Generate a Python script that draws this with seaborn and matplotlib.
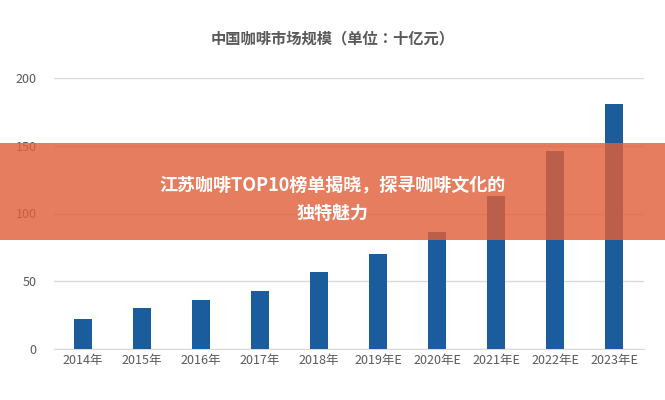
import matplotlib
matplotlib.use("Agg")
import matplotlib.pyplot as plt
import seaborn as sns
import pandas as pd
from matplotlib.patches import Rectangle

years = ["2014年", "2015年", "2016年", "2017年", "2018年", "2019年E", "2020年E", "2021年E", "2022年E", "2023年E"]
values = [22, 30, 36, 43, 57, 70, 86, 113, 146, 181]
yticks = [0, 50, 100, 150, 200]
title = "中国咖啡市场规模（单位：十亿元）"
banner = "江苏咖啡TOP10榜单揭晓，探寻咖啡文化的\n独特魅力"

plt.rcParams["font.family"] = ["Noto Sans CJK SC", "Noto Sans CJK JP", "Noto Sans CJK TC", "DejaVu Sans"]
plt.rcParams["font.sans-serif"] = ["Noto Sans CJK SC", "Noto Sans CJK JP", "DejaVu Sans"]
df = pd.DataFrame({"year": years, "value": values})

fig = plt.figure(figsize=(6.65, 4.0), dpi=100)
ax = fig.add_axes([53.5/665, 51/400, 590/665, 271/400])
sns.barplot(data=df, x="year", y="value", color="#1a5c9c", saturation=1, width=0.31, ax=ax, zorder=3)
ax.set_ylim(0, 200)
ax.set_xlim(-0.5, 9.5)
ax.set_yticks(yticks)
ax.grid(axis="y", color="#d9d9d9", linewidth=1, zorder=0)
for s in ["top", "right", "left"]:
    ax.spines[s].set_visible(False)
ax.spines["bottom"].set_color("#d9d9d9")
ax.tick_params(length=0, labelsize=9, colors="#595959")
ax.tick_params(axis="y", pad=12)
ax.set_xlabel("")
ax.set_ylabel("")
fig.text(0.5, 1 - 38/400, title, ha="center", va="center", fontsize=11, fontweight="bold", color="#595959")

fig.patches.append(Rectangle((0, 0.4), 1, 0.2425, transform=fig.transFigure,
                             facecolor="#e0603a", alpha=0.82, zorder=10))
fig.text(0.5, 1 - 199/400, banner, ha="center", va="center", fontsize=13, fontweight="bold",
         color="white", linespacing=1.6, zorder=11)
fig.savefig("out.png", dpi=100)
